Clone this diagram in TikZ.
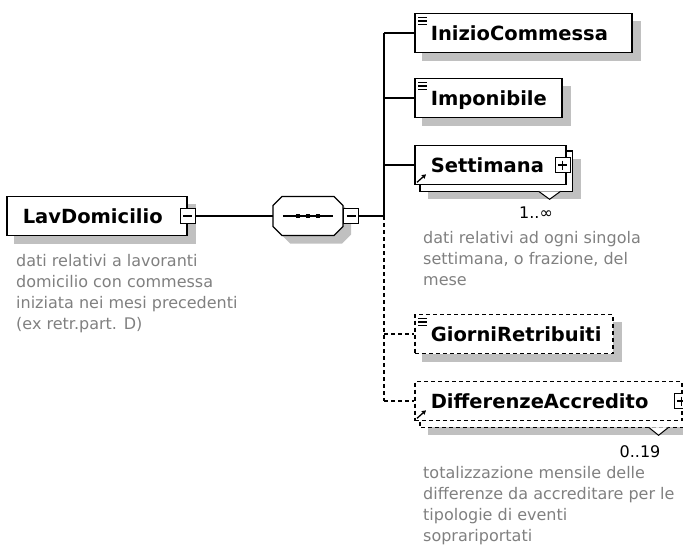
\documentclass[tikz,border=0pt]{standalone}
\usepackage{fontspec}
\setmainfont{DejaVu Sans}
\usetikzlibrary{arrows.meta,calc}
\definecolor{shadowgray}{RGB}{192,192,192}
\definecolor{notegray}{RGB}{128,128,128}
\pgfdeclarelayer{bg}
\pgfsetlayers{bg,main}
% octagon of the sequence compositor, centred at (#1,#2)
\newcommand\seqshape[3]{%
  \path[#3] (#1-26,#2-19.5) -- ++(52,0) -- ++(9,9) -- ++(0,21) -- ++(-9,9)
    -- ++(-52,0) -- ++(-9,-9) -- ++(0,-21) -- cycle;}
\tikzset{
  elem/.style={draw, line width=1.6pt, fill=white, anchor=west,
    minimum height=39pt, text width=#1, inner xsep=16pt, inner ysep=0pt,
    text height=14pt, text depth=0pt,
    font=\fontsize{19.5}{22}\selectfont\bfseries},
  optelem/.style={elem=#1, dash pattern=on 4pt off 3pt},
  wire/.style={line width=1.3pt},
  optwire/.style={wire, dash pattern=on 4pt off 3pt},
  btn/.style={draw, line width=1.2pt, fill=white, minimum size=15pt, inner sep=0pt},
  minus/.style={btn, path picture={\draw[line width=1.2pt]
    ([xshift=3pt]path picture bounding box.west) -- ([xshift=-3pt]path picture bounding box.east);}},
  plus/.style={btn, path picture={\draw[line width=1.2pt]
    ([xshift=3pt]path picture bounding box.west) -- ([xshift=-3pt]path picture bounding box.east)
    ([yshift=-3pt]path picture bounding box.north) -- ([yshift=3pt]path picture bounding box.south);}},
  % base of a note = baseline of its last line
  note/.style={anchor=base west, align=left, inner sep=0pt, text=notegray,
    font=\fontsize{16}{21}\selectfont},
  card/.style={anchor=base, inner sep=0pt, font=\fontsize{16}{21}\selectfont},
}
\begin{document}
\begin{tikzpicture}[x=1pt,y=-1pt]
\path[use as bounding box, clip] (0,0) rectangle (683,546);

% root element and its sequence
\node[elem=148] (lav) at (6,216) {LavDomicilio};
\node[minus] (lavbtn) at (lav.east) {};
\node[note] (lavnote) at (16,329) {dati relativi a lavoranti\\domicilio con commessa\\iniziata nei mesi precedenti\\(ex retr.part. D)};
\node[minimum width=70pt, minimum height=39pt, inner sep=0pt] (seq) at (308,216) {};
\seqshape{308}{216}{draw, line width=1.3pt, fill=white}
\node[minus, anchor=west] (seqbtn) at (seq.east) {};
\draw[wire] ([xshift=10pt]seq.west) -- ([xshift=-10pt]seq.east);
\foreach \dx in {-10,0,10}
  \fill ([xshift=\dx*1pt]seq.center) +(-2.3,-2.3) rectangle +(2.3,2.3);

% children
\coordinate (spine) at (384,216);
\node[elem=185] (ini) at (414,33) {InizioCommessa};
\node[elem=115] (imp) at (414,98) {Imponibile};
\node[elem=119] (set) at (414,165) {Settimana};
\node[plus] (setbtn) at ([xshift=-4pt]set.east) {};
\node[optelem=166] (gio) at (414,334) {GiorniRetribuiti};
\node[optelem=235] (dif) at (414,401) {DifferenzeAccredito};
\node[plus] (difbtn) at ([xshift=-1pt]dif.east) {};

\draw[wire] (lavbtn.east) -- (seq.west);
\draw[wire] (seqbtn.east) -- (spine);
\draw[wire] (spine |- ini.west) -- (spine);
\draw[optwire] (spine) -- (spine |- dif.west);
\foreach \n in {ini,imp,set} \draw[wire] (spine |- \n.west) -- (\n.west);
\foreach \n in {gio,dif} \draw[optwire] (spine |- \n.west) -- (\n.west);

% icons
\foreach \n in {ini,imp,gio} \foreach \d in {5,8.3,11.6}
  \draw[line width=1.2pt] ([xshift=4pt,yshift=-\d*1pt]\n.north west) -- ++(9,0);
\foreach \n in {set,dif}
  \draw[line width=1.3pt, -{Triangle[length=4pt,width=4.5pt]}] ([xshift=3pt,yshift=3pt]\n.south west) -- ++(9,-8);

% occurrences and notes
\draw[line width=1pt, fill=white] ($(set.south east)+(-28,6)$) -- ++(11,8) -- ++(11,-8);
\node[card] (setocc) at (536,218) {1..∞};
\node[note] (setnote) at (423,285) {dati relativi ad ogni singola\\settimana, o frazione, del\\mese};
\draw[line width=1pt, fill=white] ($(dif.south east)+(-34,6)$) -- ++(10,8) -- ++(10,-8);
\node[card] (difocc) at (640,457) {0..19};
\node[note] (difnote) at (423,541) {totalizzazione mensile delle\\differenze da accreditare per le\\tipologie di eventi\\soprariportati};

\begin{pgfonlayer}{bg}
  \foreach \n in {lav,ini,imp,gio}
    \fill[shadowgray] ([shift={(8,8)}]\n.north west) rectangle ([shift={(8,8)}]\n.south east);
  \foreach \n in {set,dif}
    \fill[shadowgray] ([shift={(14,14)}]\n.north west) rectangle ([shift={(14,14)}]\n.south east);
  \seqshape{316}{224}{fill=shadowgray}
  \draw[line width=1.6pt, fill=white] ([shift={(6,6)}]set.north west) rectangle ([shift={(6,6)}]set.south east);
  \draw[line width=1.6pt, fill=white, dash pattern=on 4pt off 3pt] ([shift={(6,6)}]dif.north west) rectangle ([shift={(6,6)}]dif.south east);
\end{pgfonlayer}
\end{tikzpicture}
\end{document}
